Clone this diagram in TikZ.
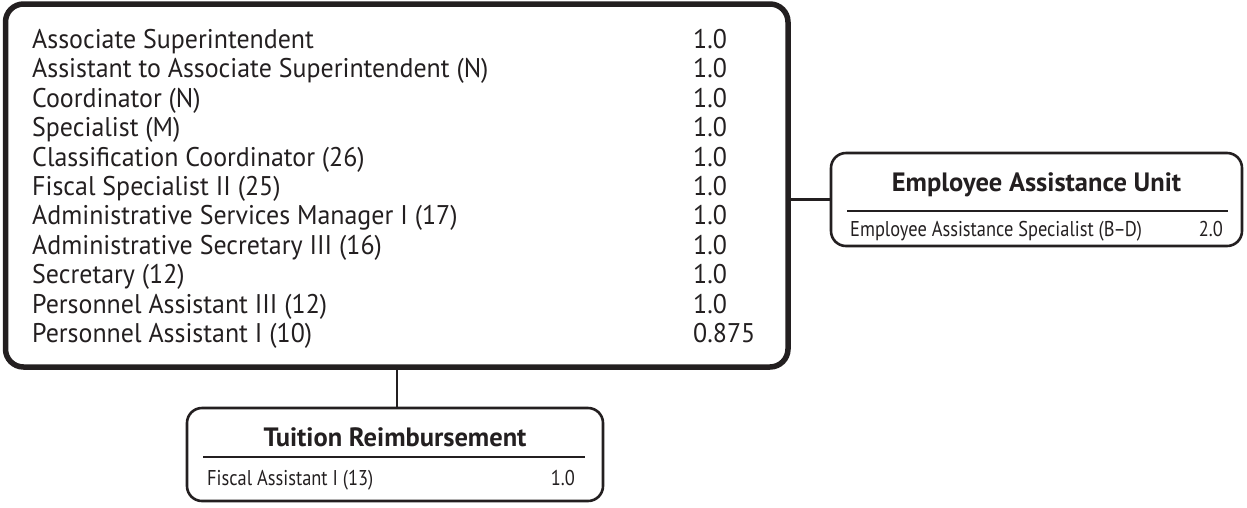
\documentclass[tikz,border=0pt]{standalone}
\usepackage{fontspec}
\setmainfont{PT Sans}
\newfontfamily\rowfont{PT Sans}[FakeStretch=0.96]
\newfontfamily\smallrowfont{PT Sans}[FakeStretch=0.86]
\usetikzlibrary{positioning}
\definecolor{inkgray}{RGB}{35,31,32}
\tikzset{
  unitbox/.style={draw=inkgray, rounded corners=15pt, line width=2.6pt},
  headbox/.style={unitbox, line width=5.5pt, rounded corners=18pt},
  link/.style={draw=inkgray, line width=2.6pt},
  rule/.style={draw=inkgray, line width=1.4pt},
  rowtxt/.style={anchor=base west, inner sep=0pt, text=inkgray, font=\rowfont\fontsize{27}{27}\selectfont},
  titletxt/.style={anchor=base, inner sep=0pt, text=inkgray, font=\fontsize{26.5}{27}\selectfont\bfseries},
  smalltxt/.style={anchor=base west, inner sep=0pt, text=inkgray, font=\smallrowfont\fontsize{21.4}{22}\selectfont}
}
\begin{document}
\begin{tikzpicture}[x=1pt, y=-1pt]
  \useasboundingbox (0,0) rectangle (1247,507);
  % staff of the associate superintendent
  \node[headbox, minimum width=782.5pt, minimum height=363pt] (staff) at (396.75,185.5) {};
  \foreach \job/\fte [count=\i] in {Associate Superintendent/1.0,
      Assistant to Associate Superintendent (N)/1.0, Coordinator (N)/1.0,
      Specialist (M)/1.0, Classification Coordinator (26)/1.0,
      Fiscal Specialist II (25)/1.0, Administrative Services Manager I (17)/1.0,
      Administrative Secretary III (16)/1.0, Secretary (12)/1.0,
      Personnel Assistant III (12)/1.0, Personnel Assistant I (10)/0.875}{
    \node[rowtxt] (job\i) at (32, 19.1+29.4*\i) {\job};
    \node[rowtxt] (fte\i) at (693, 19.1+29.4*\i) {\fte};
  }
  % employee assistance unit
  \node[unitbox, minimum width=411pt, minimum height=93pt] (eau) at (1036.5,199.5) {};
  \node[titletxt] (eautitle) at (1036.5,191) {Employee Assistance Unit};
  \draw[rule] (847,211) -- (1228,211);
  \node[smalltxt] (eaujob) at (850,236.5) {Employee Assistance Specialist (B\kern-1pt\textendash\kern-1pt D)};
  \node[smalltxt, anchor=base east] (eaufte) at (1223,236.5) {2.0};
  % tuition reimbursement
  \node[unitbox, minimum width=416pt, minimum height=93pt] (tuition) at (395,454.5) {};
  \node[titletxt] (tuititle) at (395,446) {Tuition Reimbursement};
  \draw[rule] (203,457) -- (585,457);
  \node[smalltxt] (tuijob) at (207,485.5) {Fiscal Assistant I (13)};
  \node[smalltxt, anchor=base east] (tuifte) at (575,485.5) {1.0};
  % links
  \draw[link] (eau.west) -- (eau.west -| staff.east);
  \draw[link] ([xshift=2pt]tuition.north) -- ([xshift=2pt]tuition.north |- staff.south);
\end{tikzpicture}
\end{document}
